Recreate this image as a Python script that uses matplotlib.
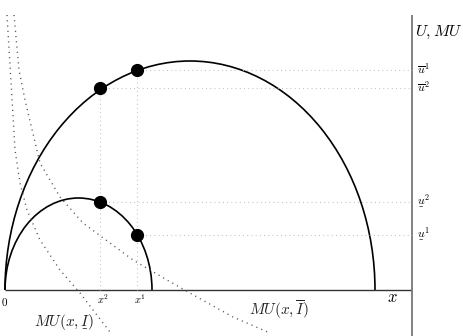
import matplotlib
matplotlib.use("Agg")
import matplotlib.pyplot as plt
from matplotlib.patches import Arc

plt.rcParams['mathtext.fontset'] = 'cm'
plt.rcParams['font.family'] = ['DejaVu Serif']

# Utility curves drawn as half-ellipses: (centre x, width, height)
U_high = (185.0, 370.0, 458.0)   # U(x, I-bar)
U_low = (73.5, 147.0, 184.0)     # U(x, I-underbar)

# Chosen quantities
x_vals = [95.0, 132.0]           # x^2, x^1
x_labels = [r'$x^2$', r'$x^1$']
u_high_pts = [202.0, 220.0]      # U-bar at x^2, x^1
u_low_pts = [88.0, 55.0]         # U-underbar at x^2, x^1
u_labels_high = [r'$\overline{u}^2$', r'$\overline{u}^1$']
u_labels_low = [r'$\underset{\_}{u}^2$', r'$\underset{\_}{u}^1$']

# Marginal utility curves (dotted)
mu_low_x = [2, 5, 8, 10, 15, 22, 35, 55, 75, 105]
mu_low_y = [275, 225, 175, 140, 107, 80, 50, 20, -3, -42]
mu_high_x = [9, 14, 20, 35, 55, 78, 105, 128, 162, 192, 228, 265]
mu_high_y = [275, 220, 190, 127, 93, 67, 47, 30, 10, -7, -27, -43]

AX_RIGHT = 407.0

fig = plt.figure(figsize=(4.64, 3.36), dpi=100)
ax = fig.add_axes([0, 0, 1, 1])
ax.set_xlim(-5, 459)
ax.set_ylim(-46, 290)
ax.axis('off')

# axes lines
ax.plot([0, AX_RIGHT], [0, 0], color='#333333', lw=1.0, solid_capstyle='butt')
ax.plot([AX_RIGHT, AX_RIGHT], [-46, 275], color='#777777', lw=1.3, solid_capstyle='butt')

# MU curves
ax.plot(mu_low_x, mu_low_y, color='#555555', lw=1.0, ls=(0, (0.8, 3)))
ax.plot(mu_high_x, mu_high_y, color='#555555', lw=1.0, ls=(0, (0.8, 3)))

# guide lines
for xv, uh, ul in zip(x_vals, u_high_pts, u_low_pts):
    ax.plot([xv, xv], [0, uh], color='#bbbbbb', lw=0.8, ls=(0, (0.8, 3)))
    ax.plot([xv, AX_RIGHT], [uh, uh], color='#bbbbbb', lw=0.8, ls=(0, (0.8, 3)))
    ax.plot([xv, AX_RIGHT], [ul, ul], color='#bbbbbb', lw=0.8, ls=(0, (0.8, 3)))

# U curves
for cx, w, h in (U_high, U_low):
    ax.add_patch(Arc((cx, 0), w, h, theta1=0, theta2=180, color='black', lw=1.2))

ax.plot(x_vals, u_high_pts, 'o', color='black', ms=8.5)
ax.plot(x_vals, u_low_pts, 'o', color='black', ms=8.5)

# labels
ax.text(0, -6, '$0$', fontsize=8, ha='center', va='top')
for xv, lab in zip(x_vals, x_labels):
    ax.text(xv + 3, -2, lab, fontsize=7.5, ha='center', va='top')
for uh, lab in zip(u_high_pts, u_labels_high):
    ax.text(AX_RIGHT + 5, uh, lab, fontsize=8.5, ha='left', va='center')
for ul, lab in zip(u_low_pts, u_labels_low):
    ax.text(AX_RIGHT + 5, ul, lab, fontsize=8.5, ha='left', va='center')

ax.text(AX_RIGHT + 3, 258, r'$U, MU$', fontsize=11.5, ha='left', va='center')
ax.text(387, -8, r'$x$', fontsize=12, ha='center', va='center')
ax.text(59, -32, r'$MU(x,\underset{\_}{I})$', fontsize=11, ha='center', va='center', color='#222222')
ax.text(274, -20, r'$MU(x,\overline{I})$', fontsize=11, ha='center', va='center', color='#222222')

fig.savefig('out.png', dpi=100)
